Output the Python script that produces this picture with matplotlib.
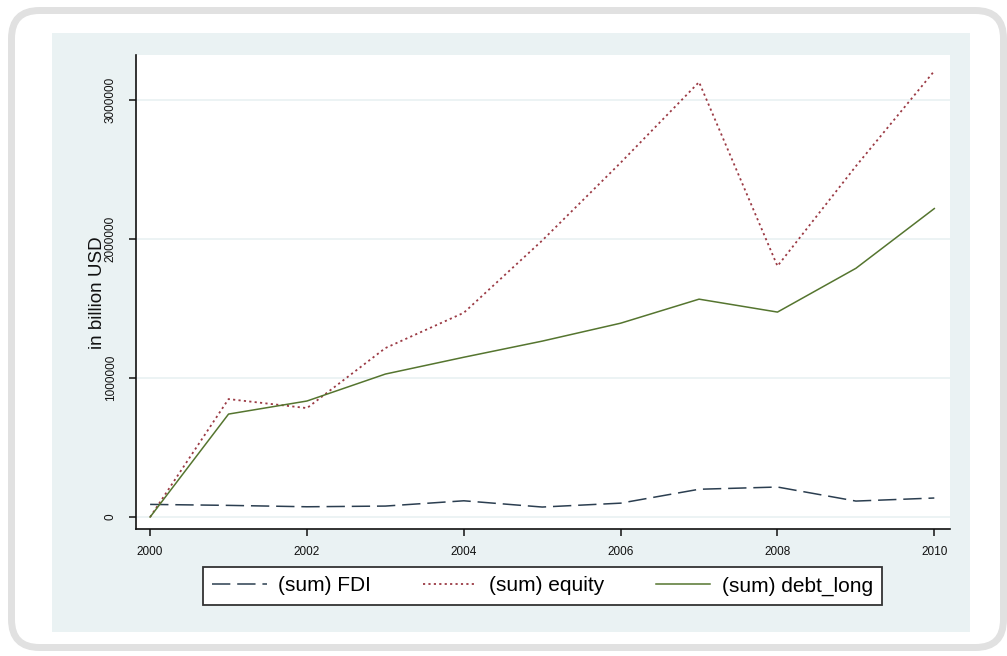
import matplotlib
matplotlib.use("Agg")
import matplotlib.pyplot as plt
from matplotlib.patches import FancyBboxPatch, Rectangle

plt.rcParams['font.family'] = ['Liberation Sans', 'DejaVu Sans']

# ---- data ----
years = [2000, 2001, 2002, 2003, 2004, 2005, 2006, 2007, 2008, 2009, 2010]
fdi = [91000, 84000, 74000, 79000, 117000, 72000, 100000, 200000, 216000, 115000, 137000]
equity = [0, 849000, 784000, 1216000, 1470000, 1990000, 2550000, 3130000, 1806000, 2525000, 3210000]
debt_long = [0, 741000, 835000, 1029000, 1150000, 1266000, 1395000, 1568000, 1475000, 1790000, 2220000]

xticks = [2000, 2002, 2004, 2006, 2008, 2010]
yticks = [0, 1000000, 2000000, 3000000]
labels = ['(sum) FDI', '(sum) equity', '(sum) debt_long']

fig = plt.figure(figsize=(10.07, 6.56), dpi=100)
fig.patch.set_facecolor('white')

# outer rounded frame
frame = FancyBboxPatch((0.115, 0.085), 9.92, 6.37,
                       boxstyle="round,pad=0,rounding_size=0.28",
                       transform=fig.dpi_scale_trans, facecolor='white',
                       edgecolor='#e1e1e1', linewidth=5.0, zorder=-2)
fig.add_artist(frame)

# stata graph region
region = Rectangle((0.52, 0.24), 9.18, 5.99, transform=fig.dpi_scale_trans,
                   facecolor='#eaf2f3', edgecolor='none', zorder=-1)
fig.add_artist(region)

ax = fig.add_axes([136 / 1007, 1 - 529 / 656, 814 / 1007, 474 / 656])
ax.set_zorder(2)
ax.set_facecolor('white')

ax.plot(years, fdi, color='#2b3e50', lw=1.1, dashes=(12, 4.5), label=labels[0])
ax.plot(years, equity, color='#9b3a44', lw=1.3, dashes=(1.2, 1.8), label=labels[1])
ax.plot(years, debt_long, color='#55752f', lw=1.1, label=labels[2])

ax.set_xlim(1999.82, 2010.2)
ax.set_ylim(-86000, 3325000)
ax.set_xticks(xticks)
ax.set_yticks(yticks)
ax.set_yticklabels([str(v) for v in yticks])

for y in yticks:
    ax.axhline(y, color='#eaf2f3', lw=1.3, zorder=0)

for s in ['top', 'right']:
    ax.spines[s].set_visible(False)
for s in ['left', 'bottom']:
    ax.spines[s].set_linewidth(1.2)
    ax.spines[s].set_color('#111111')

ax.tick_params(axis='both', direction='out', length=5, width=1.1, labelsize=8.5, colors='#111111')
ax.tick_params(axis='x', pad=7)
ax.tick_params(axis='y', pad=9)
for t in ax.get_yticklabels():
    t.set_rotation(90)
    t.set_va('center')

fig.text(97 / 1007, 1 - 293 / 656, 'in billion USD', rotation=90,
         ha='center', va='center', fontsize=13.5, color='#111111', zorder=3)

leg = ax.legend(loc='center', bbox_to_anchor=(542.5 / 1007, 1 - 586 / 656),
                bbox_transform=fig.transFigure, ncol=3, fontsize=15,
                frameon=True, fancybox=False, edgecolor='#333333', framealpha=1,
                handlelength=2.6, handletextpad=0.55, columnspacing=2.5,
                borderpad=0.45, borderaxespad=0)
leg.get_frame().set_linewidth(1.3)

fig.savefig('out.png', dpi=100)
